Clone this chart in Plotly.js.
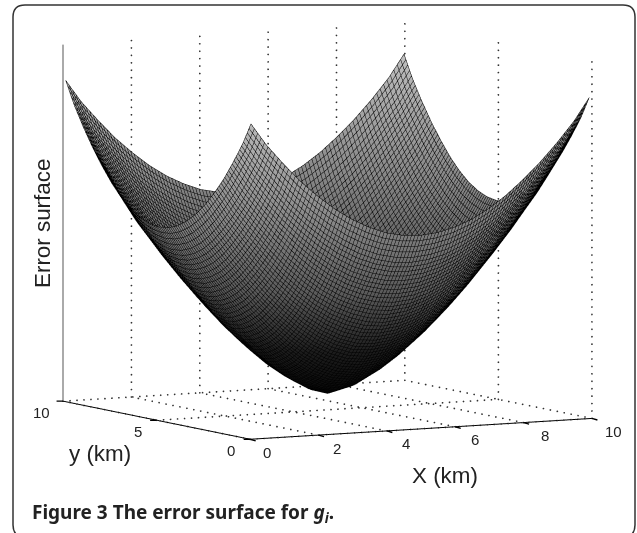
<!DOCTYPE html>
<html><head><meta charset="utf-8"><script src="https://cdn.plot.ly/plotly-3.0.1.min.js"></script>
<style>html,body{margin:0;padding:0;background:#fff}</style></head>
<body><div id="g" style="width:637px;height:533px"></div>
<script>
const xTicks=[0,2,4,6,8,10];
const yTicks=[0,5,10];
const gridCoords=[0.05,0.5,1,1.5,2,2.5,3,3.5,4,4.5,5,5.5,6,6.5,7,7.5,8,8.5,9,9.5,9.95];
const zGrid=[
[.884,.822,.766,.714,.670,.631,.599,.574,.555,.545,.542,.547,.559,.578,.605,.639,.680,.726,.778,.836,.900],
[.822,.759,.701,.648,.602,.562,.528,.501,.482,.471,.468,.473,.485,.506,.534,.570,.612,.659,.714,.773,.838],
[.766,.701,.641,.587,.539,.497,.461,.433,.414,.402,.399,.403,.417,.438,.468,.505,.548,.598,.654,.716,.782],
[.714,.648,.587,.531,.481,.437,.400,.371,.350,.337,.333,.338,.353,.376,.407,.445,.490,.542,.600,.663,.730],
[.670,.602,.539,.481,.428,.383,.344,.313,.291,.276,.272,.278,.294,.318,.350,.391,.438,.492,.552,.616,.686],
[.631,.562,.497,.437,.383,.335,.294,.261,.236,.221,.217,.223,.240,.265,.300,.343,.393,.449,.509,.576,.647],
[.599,.528,.461,.400,.344,.294,.251,.215,.189,.172,.167,.174,.192,.220,.257,.302,.354,.411,.474,.542,.615],
[.574,.501,.433,.371,.313,.261,.215,.177,.148,.130,.124,.131,.151,.182,.222,.269,.322,.382,.446,.516,.590],
[.555,.482,.414,.350,.291,.236,.189,.148,.116,.095,.087,.096,.119,.153,.196,.244,.300,.361,.427,.497,.571],
[.545,.471,.402,.337,.276,.221,.172,.130,.095,.069,.059,.071,.098,.135,.178,.229,.286,.348,.415,.485,.561],
[.542,.468,.399,.333,.272,.217,.167,.124,.087,.059,.045,.061,.091,.128,.173,.225,.282,.345,.411,.482,.558],
[.547,.473,.403,.338,.278,.223,.174,.131,.096,.071,.061,.073,.099,.136,.180,.231,.288,.349,.416,.487,.563],
[.559,.485,.417,.353,.294,.240,.192,.151,.119,.098,.091,.099,.122,.156,.199,.248,.303,.364,.430,.500,.575],
[.578,.506,.438,.376,.318,.265,.220,.182,.153,.135,.128,.136,.156,.187,.227,.273,.327,.387,.451,.521,.594],
[.605,.534,.468,.407,.350,.300,.257,.222,.196,.178,.173,.180,.199,.227,.263,.308,.360,.418,.481,.548,.621],
[.639,.570,.505,.445,.391,.343,.302,.269,.244,.229,.225,.231,.248,.273,.308,.351,.401,.457,.517,.584,.655],
[.680,.612,.548,.490,.438,.393,.354,.322,.300,.286,.282,.288,.303,.327,.360,.401,.448,.501,.561,.626,.696],
[.726,.659,.598,.542,.492,.449,.411,.382,.361,.348,.345,.349,.364,.387,.418,.457,.501,.553,.611,.674,.742],
[.778,.714,.654,.600,.552,.509,.474,.446,.427,.415,.411,.416,.430,.451,.481,.517,.561,.611,.667,.729,.794],
[.836,.773,.716,.663,.616,.576,.542,.516,.497,.485,.482,.487,.500,.521,.548,.584,.626,.674,.729,.787,.852],
[.900,.838,.782,.730,.686,.647,.615,.590,.571,.561,.558,.563,.575,.594,.621,.655,.696,.742,.794,.852,.916]];
const faceGreys=[[0,'#000000'],[0.2,'#1c1c1c'],[0.4,'#5a5a5a'],[0.65,'#888888'],[1,'#c0c0c0']];
const th=28.7*Math.PI/180,E=6.4*Math.PI/180,R=3;
const cen={x:-0.0296,y:0.0162,z:-0.132};
const traces=[{type:'surface',x:gridCoords,y:gridCoords,z:zGrid,showscale:false,hoverinfo:'skip',cmin:0,cmax:0.92,
 colorscale:faceGreys,lighting:{ambient:1,diffuse:0,specular:0,roughness:1,fresnel:0},
 contours:{x:{show:true,start:0.05,end:9.95,size:0.1,color:'#000',width:3},y:{show:true,start:0.05,end:9.95,size:0.1,color:'#000',width:3},z:{show:false}}}];
const dx=[],dy=[],dz=[];
function dots(x0,y0,z0,x1,y1,z1,n){for(let i=0;i<=n;i++){const f=i/n;dx.push(x0+(x1-x0)*f);dy.push(y0+(y1-y0)*f);dz.push(z0+(z1-z0)*f);}}
xTicks.forEach(v=>{dots(v,0,0,v,10,0,27);if(v>0)dots(v,10,0,v,10,1,48);});
yTicks.forEach(v=>{dots(0,v,0,10,v,0,49);if(v<10)dots(10,v,0,10,v,1,48);});
traces.push({type:'scatter3d',mode:'markers',x:dx,y:dy,z:dz,hoverinfo:'skip',marker:{size:1,color:'#333',line:{width:0}}});
const tickFont={family:'Liberation Sans',size:15,color:'#222'};
const tickMark={text:' ',showarrow:true,arrowhead:0,arrowwidth:1.4,arrowcolor:'#000',standoff:0,font:{size:1}};
const sceneAnn=[
 ...xTicks.map(v=>({x:v,y:0,z:0,text:String(v),showarrow:false,font:tickFont,xshift:17+v*0.5,yshift:-13})),
 ...yTicks.map(v=>({x:0,y:v,z:0,text:String(v),showarrow:false,font:tickFont,xshift:-19-(v==10?3:0),yshift:-11})),
 ...xTicks.map(v=>({x:v,y:0,z:0,...tickMark,ax:7,ay:2})),
 ...yTicks.map(v=>({x:0,y:v,z:0,...tickMark,ax:-8,ay:0}))];
const px=(x,y)=>({x:x/637,y:1-y/533,xref:'paper',yref:'paper',xanchor:'center',yanchor:'middle'});
const titleFont={family:'Liberation Sans',size:22.4,color:'#222'};
const layout={width:637,height:533,margin:{l:0,r:0,t:0,b:0},paper_bgcolor:'#fff',showlegend:false,
 shapes:[{type:'path',xref:'paper',yref:'paper',layer:'above',line:{color:'#333',width:1.5},
  path:`M ${13/637} ${1-17/533} Q ${13/637} ${1-5/533} ${25/637} ${1-5/533} L ${623/637} ${1-5/533} Q ${635/637} ${1-5/533} ${635/637} ${1-17/533} L ${635/637} ${1-525/533} Q ${635/637} ${1-537/533} ${623/637} ${1-537/533} L ${25/637} ${1-537/533} Q ${13/637} ${1-537/533} ${13/637} ${1-525/533} Z`}],
 annotations:[
  {...px(42,224),text:'Error surface',textangle:-90,showarrow:false,font:titleFont},
  {...px(100,453),text:'y (km)',showarrow:false,font:titleFont},
  {...px(445,475),text:'X (km)',showarrow:false,font:titleFont},
  {...px(30,513),xanchor:'left',text:'<b>Figure 3 The error surface for <i>g<sub>i</sub></i>.</b>',showarrow:false,font:{family:'Noto Sans',size:19,color:'#222'}}],
 scene:{domain:{x:[0,1],y:[0,1]},aspectmode:'manual',aspectratio:{x:1.462,y:1.462,z:1.346},annotations:sceneAnn,
  camera:{projection:{type:'orthographic'},center:cen,eye:{x:cen.x-R*Math.sin(th)*Math.cos(E),y:cen.y-R*Math.cos(th)*Math.cos(E),z:cen.z+R*Math.sin(E)},up:{x:0,y:0,z:1}},
  xaxis:{range:[0,10],tickvals:xTicks,showticklabels:false,ticks:'',showgrid:false,zeroline:false,showbackground:false,showline:true,linecolor:'#000',linewidth:2,title:{text:''},showspikes:false},
  yaxis:{range:[0,10],tickvals:yTicks,showticklabels:false,ticks:'',showgrid:false,zeroline:false,showbackground:false,showline:true,linecolor:'#000',linewidth:2,title:{text:''},showspikes:false},
  zaxis:{range:[0,1],showticklabels:false,ticks:'',showgrid:false,zeroline:false,showbackground:false,showline:true,linecolor:'#555',linewidth:2,title:{text:''},showspikes:false}}};
Plotly.newPlot('g',traces,layout,{displayModeBar:false});
</script></body></html>
